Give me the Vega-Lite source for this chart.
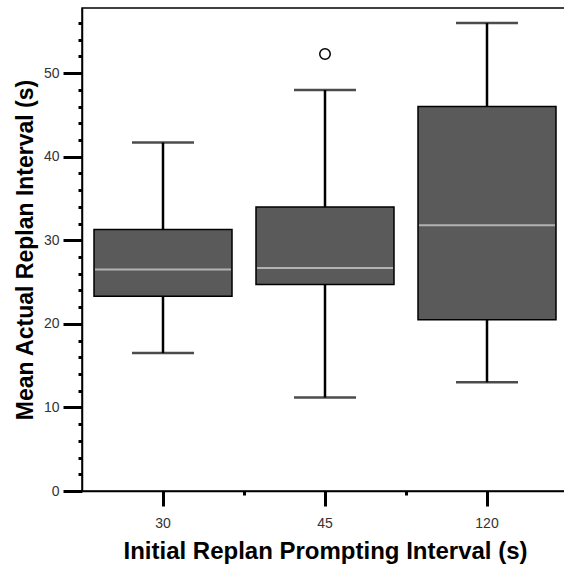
{
  "$schema": "https://vega.github.io/schema/vega-lite/v6.json",
  "autosize": "none",
  "width": 486,
  "height": 483,
  "padding": {"left": 82, "top": 8, "right": 0, "bottom": 79},
  "background": "white",
  "config": {
    "view": {"stroke": "black", "strokeWidth": 1.5},
    "font": "Liberation Sans",
    "axis": {"grid": false, "domainColor": "black", "domainWidth": 1.5, "tickColor": "black", "labelFont": "Liberation Sans", "titleFont": "Liberation Sans"}
  },
  "datasets": {
    "stats": [
      {"g": "30", "lo": 16.5, "q1": 23.3, "med": 26.5, "q3": 31.3, "hi": 41.7},
      {"g": "45", "lo": 11.2, "q1": 24.7, "med": 26.7, "q3": 34.0, "hi": 48.0},
      {"g": "120", "lo": 13.0, "q1": 20.5, "med": 31.8, "q3": 46.0, "hi": 56.0}
    ],
    "outliers": [
      {"g": "45", "v": 52.3}
    ]
  },
  "resolve": {"axis": {"x": "independent", "y": "independent"}},
  "layer": [
    {
      "data": {"name": "stats"},
      "mark": {"type": "rule", "color": "black", "strokeWidth": 2.5},
      "encoding": {
        "x": {"field": "g", "type": "nominal", "sort": ["30", "45", "120"],
          "scale": {"paddingInner": 0, "paddingOuter": 0},
          "axis": {"orient": "bottom", "labelAngle": 0, "tickSize": 15, "tickWidth": 3, "labelPadding": 10, "labelFontSize": 14, "labelColor": "#333", "title": "Initial Replan Prompting Interval (s)", "titleFontSize": 24, "titleFontWeight": "bold", "titleColor": "black", "titlePadding": 9}},
        "y": {"field": "lo", "type": "quantitative",
          "scale": {"domain": [0, 57.8], "nice": false, "zero": true},
          "axis": {"orient": "left", "values": [0, 10, 20, 30, 40, 50], "tickSize": 19, "tickWidth": 3, "labelPadding": 4, "labelFontSize": 14, "labelColor": "#333", "title": "Mean Actual Replan Interval (s)", "titleFontSize": 23, "titleFontWeight": "bold", "titleColor": "black", "titlePadding": 6}},
        "y2": {"field": "hi"}
      }
    },
    {
      "data": {"name": "stats"},
      "mark": {"type": "tick", "color": "black", "thickness": 2.5, "size": 62},
      "encoding": {
        "x": {"field": "g", "type": "nominal", "sort": ["30", "45", "120"],
          "axis": {"orient": "bottom", "bandPosition": 1, "labels": false, "tickSize": 4, "tickWidth": 3, "domain": false, "title": null}},
        "y": {"field": "lo", "type": "quantitative",
          "axis": {"orient": "left", "values": [2, 4, 6, 8, 12, 14, 16, 18, 22, 24, 26, 28, 32, 34, 36, 38, 42, 44, 46, 48, 52, 54, 56], "labels": false, "tickSize": 4, "tickWidth": 3, "domain": false, "title": null}}
      }
    },
    {
      "data": {"name": "stats"},
      "mark": {"type": "tick", "color": "black", "thickness": 2.5, "size": 62},
      "encoding": {
        "x": {"field": "g", "type": "nominal", "sort": ["30", "45", "120"], "axis": null},
        "y": {"field": "hi", "type": "quantitative", "axis": null}
      }
    },
    {
      "data": {"name": "stats"},
      "mark": {"type": "bar", "fill": "#5a5a5a", "stroke": "black", "strokeWidth": 1.5, "size": 138},
      "encoding": {
        "x": {"field": "g", "type": "nominal", "sort": ["30", "45", "120"], "axis": null},
        "y": {"field": "q1", "type": "quantitative", "axis": null},
        "y2": {"field": "q3"}
      }
    },
    {
      "data": {"name": "stats"},
      "mark": {"type": "tick", "color": "#d8d8d8", "thickness": 2, "size": 136},
      "encoding": {
        "x": {"field": "g", "type": "nominal", "sort": ["30", "45", "120"], "axis": null},
        "y": {"field": "med", "type": "quantitative", "axis": null}
      }
    },
    {
      "data": {"name": "outliers"},
      "mark": {"type": "point", "shape": "circle", "filled": false, "color": "black", "strokeWidth": 1.5, "size": 110, "opacity": 1},
      "encoding": {
        "x": {"field": "g", "type": "nominal", "sort": ["30", "45", "120"], "axis": null},
        "y": {"field": "v", "type": "quantitative", "axis": null}
      }
    }
  ]
}
